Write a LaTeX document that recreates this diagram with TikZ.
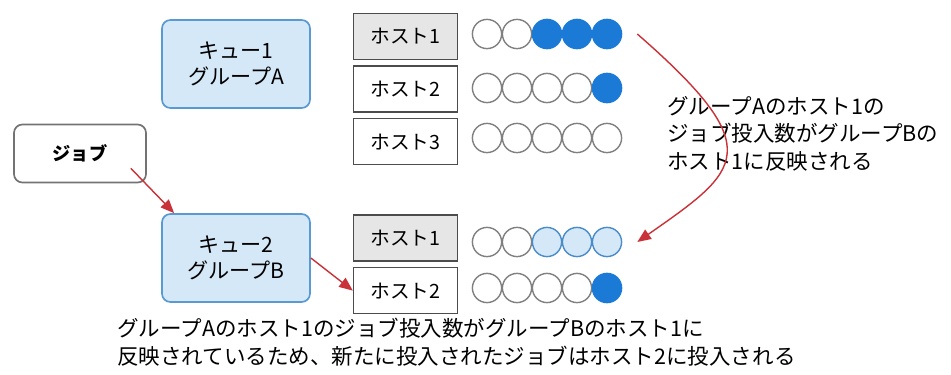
\documentclass[tikz,border=0pt]{standalone}
\usepackage{fontspec}
\setmainfont{Noto Sans CJK JP}
\usetikzlibrary{arrows.meta,positioning}
\definecolor{queuefill}{HTML}{D4E8F8}
\definecolor{queueedge}{HTML}{5A9AD2}
\definecolor{hostgray}{HTML}{E6E6E6}
\definecolor{flowred}{HTML}{C83238}
\definecolor{slotblue}{HTML}{1A7AD6}
\definecolor{slotpale}{HTML}{D4E8F8}
\definecolor{slotedge}{HTML}{4A8CC8}
\tikzset{
  queue/.style={draw=queueedge,fill=queuefill,line width=1.2pt,
    rounded corners=6pt,minimum width=3.7cm,minimum height=2.2cm,
    align=center,font=\fontsize{15}{18}\selectfont},
  jobbox/.style={draw=black!55,line width=1.2pt,rounded corners=6pt,
    minimum width=3.3cm,minimum height=1.45cm,font=\fontsize{13}{15}\selectfont\bfseries},
  host/.style={draw=black!70,line width=1pt,fill=white,minimum width=2.6cm,
    minimum height=1.15cm,font=\fontsize{14}{16}\selectfont},
  hostsel/.style={host,fill=hostgray},
  slot/.style={circle,draw=black!50,line width=1pt,fill=white,
    minimum size=0.73cm,inner sep=0pt},
  used/.style={slot,draw=slotblue,fill=slotblue},
  shared/.style={slot,draw=slotedge,fill=slotpale},
  flow/.style={-{Triangle[length=0.34cm,width=0.28cm]},draw=flowred,line width=1pt},
  note/.style={align=left,inner sep=0pt,font=\fontsize{15.3}{19.5}\selectfont}
}
\begin{document}
\begin{tikzpicture}[x=0.025cm,y=-0.025cm]
  \useasboundingbox (0,0) rectangle (951,374);
  \node[queue] (queueA) at (236,64) {キュー1\\グループA};
  \node[queue] (queueB) at (236,258) {キュー2\\グループB};
  \node[jobbox] (job) at (80,153.5) {ジョブ};
  \node[hostsel] (hostA1) at (405.5,36.5) {ホスト1};
  \node[host,below=0.13cm of hostA1] (hostA2) {ホスト2};
  \node[host,below=0.13cm of hostA2] (hostA3) {ホスト3};
  \node[hostsel] (hostB1) at (405.5,238) {ホスト1};
  \node[host,below=0.13cm of hostB1] (hostB2) {ホスト2};
  \foreach \i/\s in {1/slot,2/slot,3/used,4/used,5/used}
    \node[\s] (a1s\i) at ({457+30*\i},34) {};
  \foreach \i/\s in {1/slot,2/slot,3/slot,4/slot,5/used}
    \node[\s] (a2s\i) at ({457+30*\i},88) {};
  \foreach \i in {1,...,5}
    \node[slot] (a3s\i) at ({457+30*\i},138) {};
  \foreach \i/\s in {1/slot,2/slot,3/shared,4/shared,5/shared}
    \node[\s] (b1s\i) at ({457+30*\i},242) {};
  \foreach \i/\s in {1/slot,2/slot,3/slot,4/slot,5/used}
    \node[\s] (b2s\i) at ({457+30*\i},288) {};
  \node[note,anchor=north west] (notecurve) at (667,96)
    {グループAのホスト1の\\ジョブ投入数がグループBの\\ホスト1に反映される};
  \node[note,anchor=north west] (notebottom) at (117,318)
    {グループAのホスト1のジョブ投入数がグループBのホスト1に\\反映されているため、新たに投入されたジョブはホスト2に投入される};
  \draw[flow] ([shift={(-16,-15)}]job.south east) -- ([shift={(13,0)}]queueB.north west);
  \draw[flow] (queueB.east) -- (hostB2.west);
  \draw[flow] ([shift={(15,0)}]a1s5.east) .. controls +(133,116) and +(103,-72)
    .. ([shift={(15,0)}]b1s5.east);
\end{tikzpicture}
\end{document}
